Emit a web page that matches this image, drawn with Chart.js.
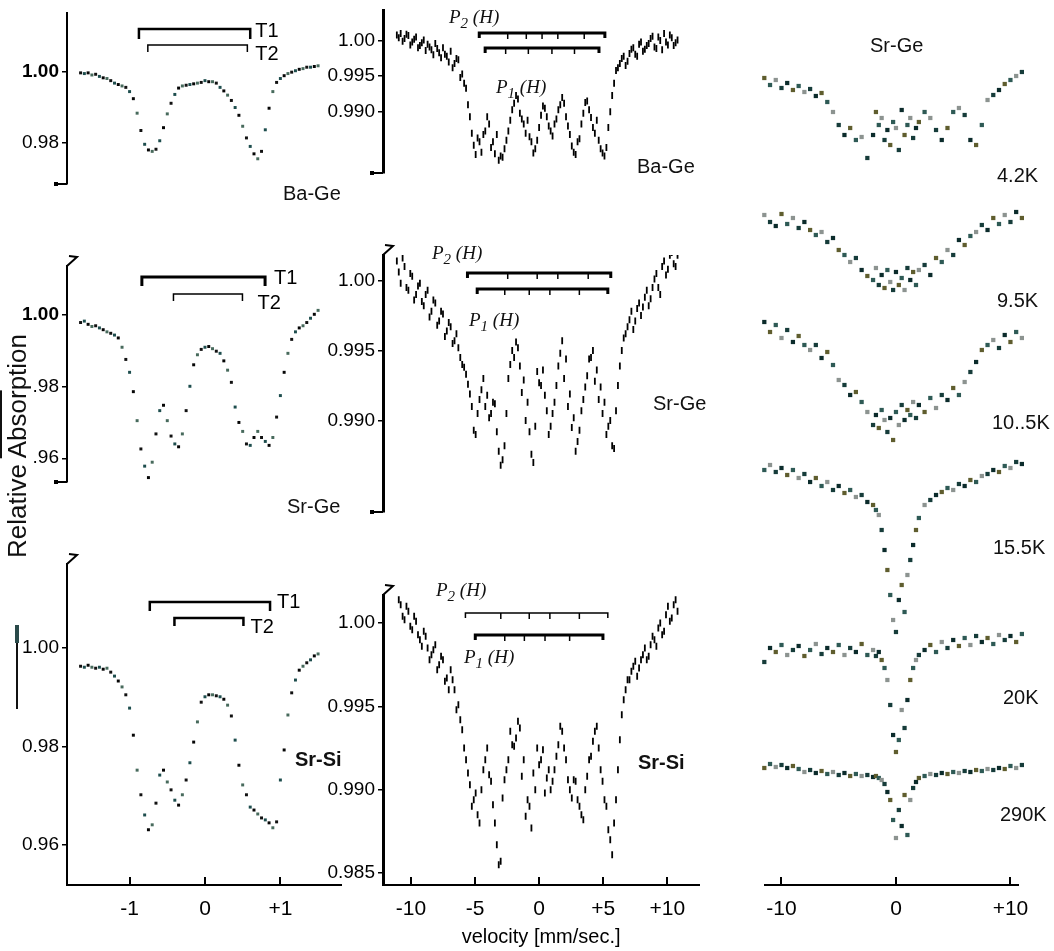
<!DOCTYPE html>
<html>
<head>
<meta charset="utf-8">
<script src="https://cdn.jsdelivr.net/npm/chart.js@4/dist/chart.umd.min.js"></script>
<style>
  body { margin:0; width:1054px; height:951px; overflow:hidden; position:relative; background:#fff;
         font-family:"Liberation Sans", Arial, sans-serif; color:#111; }
  canvas { position:absolute; }
  .lbl { position:absolute; font-size:19px; line-height:1; white-space:nowrap; }
  .big { font-size:20px; }
  .ph { position:absolute; line-height:1; white-space:nowrap; font-family:"Liberation Serif","DejaVu Serif",serif;
        font-style:italic; font-size:19px; }
  .ph sub { font-size:15px; vertical-align:-5px; }
</style>
</head>
<body>

<div class="lbl" style="left:17px;top:446px;font-size:26px;transform:translate(-50%,-50%) rotate(-90deg);">Relative <span style="text-decoration:overline">Absor</span>ption</div>
<div style="position:absolute;left:16px;top:625px;width:2px;height:84px;background:#111"></div>
<div style="position:absolute;left:15px;top:625px;width:4px;height:18px;background:#2a4a4a"></div>

<div class="lbl big" style="left:283px;top:183px">Ba-Ge</div>
<div class="lbl big" style="left:287px;top:496px">Sr-Ge</div>
<div class="lbl big" style="left:295px;top:749px;font-weight:bold">Sr-Si</div>

<div class="lbl big" style="left:637px;top:156px">Ba-Ge</div>
<div class="lbl big" style="left:653px;top:393px">Sr-Ge</div>
<div class="lbl big" style="left:638px;top:752px;font-weight:bold">Sr-Si</div>

<div class="ph" style="left:449px;top:7px">P<sub>2</sub> (H)</div>
<div class="ph" style="left:496px;top:77px">P<sub>1</sub> (H)</div>
<div class="ph" style="left:432px;top:243px">P<sub>2</sub> (H)</div>
<div class="ph" style="left:469px;top:310px">P<sub>1</sub> (H)</div>
<div class="ph" style="left:436px;top:580px">P<sub>2</sub> (H)</div>
<div class="ph" style="left:464px;top:647px">P<sub>1</sub> (H)</div>

<div class="lbl big" style="left:870px;top:35px">Sr-Ge</div>

<script>
// ---- left column: Mossbauer spectra, velocity in mm/s ----
const vLeft = [-1.65,-1.6,-1.55,-1.5,-1.45,-1.4,-1.35,-1.3,
  -1.25,-1.2,-1.15,-1.1,-1.05,-1.0,-0.95,-0.9,
  -0.85,-0.8,-0.75,-0.7,-0.65,-0.6,-0.55,-0.5,
  -0.45,-0.4,-0.35,-0.3,-0.25,-0.2,-0.15,-0.1,
  -0.05,0.0,0.05,0.1,0.15,0.2,0.25,0.3,
  0.35,0.4,0.45,0.5,0.55,0.6,0.65,0.7,
  0.75,0.8,0.85,0.9,0.95,1.0,1.05,1.1,
  1.15,1.2,1.25,1.3,1.35,1.4,1.45,1.5];

const baGeLeft = [0.9998,0.9996,0.9998,0.9992,0.9994,0.9988,0.9984,0.9982,
  0.9976,0.9969,0.9965,0.9961,0.9957,0.9945,0.9925,0.9884,
  0.9835,0.9796,0.9780,0.9776,0.9782,0.9806,0.9843,0.9882,
  0.9912,0.9937,0.9955,0.9961,0.9963,0.9965,0.9967,0.9969,
  0.9971,0.9976,0.9973,0.9973,0.9969,0.9957,0.9947,0.9935,
  0.9920,0.9900,0.9878,0.9847,0.9814,0.9790,0.9769,0.9755,
  0.9776,0.9837,0.9898,0.9945,0.9971,0.9982,0.9990,0.9996,
  1.0000,1.0004,1.0008,1.0010,1.0014,1.0014,1.0016,1.0018];

const srGeLeft = [0.9979,0.9983,0.9974,0.9968,0.9970,0.9964,0.9959,0.9953,
  0.9949,0.9944,0.9936,0.9910,0.9876,0.9840,0.9786,0.9705,
  0.9626,0.9578,0.9546,0.9589,0.9668,0.9733,0.9748,0.9705,
  0.9662,0.9640,0.9632,0.9668,0.9733,0.9801,0.9861,0.9889,
  0.9904,0.9910,0.9912,0.9906,0.9899,0.9893,0.9872,0.9846,
  0.9812,0.9743,0.9700,0.9675,0.9640,0.9636,0.9658,0.9675,
  0.9658,0.9647,0.9636,0.9658,0.9715,0.9775,0.9840,0.9893,
  0.9932,0.9953,0.9964,0.9970,0.9979,0.9991,1.0002,1.0013];

const srSiLeft = [0.9963,0.9961,0.9965,0.9961,0.9959,0.9961,0.9957,0.9959,
  0.9951,0.9943,0.9933,0.9921,0.9905,0.9878,0.9823,0.9752,
  0.9702,0.9661,0.9631,0.9641,0.9685,0.9742,0.9752,0.9728,
  0.9712,0.9691,0.9681,0.9702,0.9732,0.9767,0.9809,0.9850,
  0.9890,0.9901,0.9905,0.9905,0.9903,0.9901,0.9896,0.9884,
  0.9862,0.9813,0.9762,0.9722,0.9702,0.9677,0.9671,0.9663,
  0.9655,0.9651,0.9645,0.9635,0.9647,0.9732,0.9793,0.9864,
  0.9909,0.9935,0.9955,0.9963,0.9970,0.9976,0.9984,0.9988];

const leftXTicks = [-1, 0, 1];
const leftXLabels = ['-1', '0', '+1'];
const baGeLeftYTicks = [1.00, 0.98];
const baGeLeftYLabels = ['1.00', '0.98'];
const srGeLeftYTicks = [1.00, 0.98, 0.96];
const srGeLeftYLabels = ['1.00', '.98', '.96'];
const srSiLeftYTicks = [1.00, 0.98, 0.96];
const srSiLeftYLabels = ['1.00', '0.98', '0.96'];

// ---- middle column: wide velocity range, two interleaved channel sets ----
const vMid = [-11.1,-10.8,-10.5,-10.2,-9.9,-9.6,-9.3,-9.0,-8.7,-8.4,-8.1,-7.8,-7.5,-7.2,-6.9,-6.6,-6.3,-6.0,
  -5.7,-5.4,-5.1,-4.8,-4.5,-4.2,-3.9,-3.6,-3.3,-3.0,-2.7,-2.4,-2.1,-1.8,-1.5,-1.2,-0.9,-0.6,-0.3,0.0,
  0.3,0.6,0.9,1.2,1.5,1.8,2.1,2.4,2.7,3.0,3.3,3.6,3.9,4.2,4.5,4.8,5.1,5.4,5.7,6.0,
  6.3,6.6,6.9,7.2,7.5,7.8,8.1,8.4,8.7,9.0,9.3,9.6,9.9,10.2,10.5,10.8];
const vMid2 = [-10.95,-10.65,-10.35,-10.05,-9.75,-9.45,-9.15,-8.85,-8.55,-8.25,-7.95,-7.65,-7.35,-7.05,-6.75,-6.45,-6.15,
  -5.85,-5.55,-5.25,-4.95,-4.65,-4.35,-4.05,-3.75,-3.45,-3.15,-2.85,-2.55,-2.25,-1.95,-1.65,-1.35,-1.05,-0.75,-0.45,-0.15,
  0.15,0.45,0.75,1.05,1.35,1.65,1.95,2.25,2.55,2.85,3.15,3.45,3.75,4.05,4.35,4.65,4.95,5.25,5.55,5.85,
  6.15,6.45,6.75,7.05,7.35,7.65,7.95,8.25,8.55,8.85,9.15,9.45,9.75,10.05,10.35,10.65];

const baGeMid = [1.0008,1.0010,1.0003,1.0007,0.9998,1.0005,0.9993,1.0001,0.9995,0.9987,0.9996,0.9983,0.9990,0.9978,0.9985,0.9968,0.9973,0.9953,
  0.9933,0.9893,0.9853,0.9863,0.9843,0.9873,0.9883,0.9858,0.9868,0.9838,0.9848,0.9873,0.9903,0.9923,0.9898,0.9883,0.9888,0.9858,0.9848,0.9878,
  0.9908,0.9893,0.9873,0.9883,0.9903,0.9920,0.9893,0.9868,0.9843,0.9858,0.9883,0.9913,0.9903,0.9878,0.9888,0.9848,0.9838,0.9878,0.9923,0.9958,
  0.9968,0.9978,0.9971,0.9988,0.9981,0.9995,0.9985,0.9993,1.0003,0.9991,1.0005,0.9987,0.9998,1.0008,0.9993,1.0001];
const baGeMid2 = [1.0004,0.9999,1.0009,0.9994,1.0002,0.9990,0.9997,0.9986,0.9991,0.9980,0.9989,0.9976,0.9981,0.9970,0.9962,0.9975,0.9948,
  0.9940,0.9910,0.9870,0.9840,0.9858,0.9868,0.9893,0.9850,0.9841,0.9832,0.9836,0.9860,0.9888,0.9912,0.9918,0.9890,0.9870,0.9865,0.9842,0.9860,
  0.9895,0.9905,0.9880,0.9866,0.9890,0.9910,0.9912,0.9880,0.9852,0.9840,0.9862,0.9898,0.9915,0.9892,0.9870,0.9860,0.9842,0.9850,0.9900,0.9940,
  0.9962,0.9975,0.9965,0.9982,0.9990,0.9978,0.9998,0.9988,0.9996,1.0006,0.9989,1.0000,1.0010,0.9994,1.0004,0.9997];

const srGeMid = [1.0014,0.9998,1.0010,0.9993,1.0003,0.9990,0.9998,0.9982,0.9993,0.9978,0.9984,0.9971,0.9976,0.9964,0.9967,0.9957,0.9952,0.9940,
  0.9933,0.9919,0.9893,0.9905,0.9922,0.9910,0.9902,0.9913,0.9892,0.9868,0.9882,0.9930,0.9950,0.9956,0.9939,0.9929,0.9913,0.9876,0.9896,0.9927,
  0.9936,0.9907,0.9896,0.9913,0.9939,0.9957,0.9944,0.9919,0.9902,0.9885,0.9907,0.9924,0.9944,0.9950,0.9936,0.9924,0.9913,0.9896,0.9882,0.9907,
  0.9939,0.9959,0.9967,0.9978,0.9971,0.9984,0.9981,0.9993,0.9987,1.0001,0.9995,1.0010,1.0004,1.0018,1.0012,1.0018];
const srGeMid2 = [1.0006,1.0016,0.9995,1.0005,0.9986,0.9996,0.9985,0.9990,0.9974,0.9986,0.9968,0.9978,0.9960,0.9970,0.9955,0.9962,0.9945,
  0.9938,0.9926,0.9910,0.9890,0.9915,0.9930,0.9918,0.9905,0.9912,0.9878,0.9872,0.9905,0.9940,0.9945,0.9952,0.9920,0.9900,0.9892,0.9870,0.9935,
  0.9925,0.9918,0.9890,0.9905,0.9925,0.9948,0.9930,0.9910,0.9895,0.9878,0.9893,0.9915,0.9932,0.9945,0.9928,0.9915,0.9905,0.9890,0.9900,0.9880,
  0.9925,0.9950,0.9962,0.9972,0.9965,0.9980,0.9975,0.9988,0.9982,0.9995,1.0005,0.9990,1.0014,1.0008,1.0020,1.0010];

const srSiMid = [1.0019,1.0011,1.0002,1.0007,0.9996,1.0001,0.9990,0.9995,0.9985,0.9981,0.9987,0.9975,0.9978,0.9967,0.9972,0.9960,0.9951,0.9936,
  0.9918,0.9903,0.9894,0.9885,0.9900,0.9918,0.9909,0.9891,0.9867,0.9857,0.9906,0.9918,0.9927,0.9931,0.9937,0.9918,0.9894,0.9877,0.9900,0.9915,
  0.9924,0.9907,0.9900,0.9912,0.9927,0.9935,0.9918,0.9900,0.9906,0.9894,0.9885,0.9900,0.9918,0.9929,0.9938,0.9912,0.9894,0.9876,0.9861,0.9894,
  0.9930,0.9954,0.9966,0.9971,0.9977,0.9973,0.9981,0.9978,0.9987,0.9990,0.9997,0.9993,1.0005,1.0001,1.0011,1.0007];
const srSiMid2 = [1.0014,1.0004,1.0010,0.9998,1.0004,0.9993,0.9986,0.9992,0.9978,0.9984,0.9972,0.9980,0.9965,0.9960,0.9966,0.9948,0.9942,
  0.9925,0.9910,0.9890,0.9898,0.9880,0.9912,0.9925,0.9905,0.9880,0.9855,0.9895,0.9912,0.9935,0.9926,0.9941,0.9908,0.9884,0.9890,0.9910,0.9925,
  0.9918,0.9898,0.9912,0.9905,0.9920,0.9938,0.9925,0.9906,0.9895,0.9905,0.9890,0.9882,0.9908,0.9920,0.9935,0.9925,0.9905,0.9890,0.9870,0.9880,
  0.9912,0.9945,0.9960,0.9966,0.9974,0.9968,0.9978,0.9985,0.9980,0.9992,0.9986,1.0000,0.9995,1.0010,1.0003,1.0014];

const midXTicks = [-10, -5, 0, 5, 10];
const midXLabels = ['-10', '-5', '0', '+5', '+10'];
const baGeMidYTicks = [1.00, 0.995, 0.990];
const baGeMidYLabels = ['1.00', '0.995', '0.990'];
const srGeMidYTicks = [1.00, 0.995, 0.990];
const srGeMidYLabels = ['1.00', '0.995', '0.990'];
const srSiMidYTicks = [1.00, 0.995, 0.990, 0.985];
const srSiMidYLabels = ['1.00', '0.995', '0.990', '0.985'];

// ---- right column: Sr-Ge vs temperature (arb. units, stacked) ----
const vRight = [-12.5,-12,-11.5,-11,-10.5,-10,-9.5,-9,-8.5,-8,-7.5,-7,-6.5,-6,-5.5,-5,-4.5,-4,-3.5,-3,-2.5,
  -2,-1.75,-1.5,-1.25,-1,-0.75,-0.5,-0.25,0,0.25,0.5,0.75,1,1.25,1.5,1.75,2,
  2.5,3,3.5,4,4.5,5,5.5,6,6.5,7,7.5,8,8.5,9,9.5,10,10.5,11,11.5,12];

const temps = ['4.2K', '9.5K', '10..5K', '15.5K', '20K', '290K'];
const offsets = [160.6, 133, 112, 84, 47, 23];

const sr42 = [null,null,0.8,-0.6,0.4,-1.2,-0.2,-1.6,-0.8,-2.0,-1.4,-2.8,-2.2,-4.0,-6.0,-8.6,-10.6,-9.2,-11.6,-11.0,-15.2,
  -10.6,-6.0,-8.6,-7.2,-11.6,-9.6,-12.6,-8.0,-9.2,-13.6,-5.6,-10.6,-8.6,-7.2,-11.2,-9.2,-8.0,
  -6.0,-7.2,-9.6,-11.6,-9.2,-6.0,-5.2,-6.6,-11.6,-12.6,-8.6,-3.6,-2.6,-1.6,-0.4,0.4,1.2,2.0,2.4,2.8];
const sr95 = [0.4,-1.0,1.0,-0.4,-1.2,1.2,-0.8,0.4,-1.6,-0.4,-2.0,-3.0,-2.4,-4.4,-3.6,-6.0,-7.0,-8.4,-7.6,-10.0,-11.2,
  -12.0,-9.6,-13.0,-11.0,-13.6,-10.0,-12.4,-14.0,-10.4,-13.0,-11.6,-14.0,-9.6,-12.0,-10.4,-13.0,-10.0,
  -9.0,-11.0,-7.6,-8.4,-6.0,-7.0,-4.0,-5.0,-3.2,-2.4,-1.0,-2.0,0.4,-0.8,1.0,-0.4,1.6,0.4,1.4,2.0];
const sr105 = [1.4,-0.6,0.6,-1.4,0.0,-2.6,-1.0,-3.4,-2.2,-4.0,-5.0,-4.0,-6.6,-5.4,-8.0,-11.0,-12.0,-14.0,-13.4,-15.4,-17.4,
  -20.0,-18.0,-20.6,-17.0,-19.0,-21.4,-18.6,-23.0,-17.4,-20.0,-16.0,-19.0,-17.0,-18.0,-15.4,-18.6,-16.0,
  -17.4,-14.6,-16.6,-14.0,-15.0,-12.6,-14.0,-11.4,-9.4,-7.4,-5.0,-4.0,-3.0,-4.6,-2.0,-3.4,-1.4,-2.6,-1.0,-2.0];
const sr155 = [null,0.6,-1.0,0,-1.4,-0.6,-2.0,-1.0,-2.6,-1.8,-3.4,-2.6,-4.2,-3.4,-5.0,-4.2,-5.6,-5.0,-6.4,-6.0,-7.4,
  -8.0,-9.0,-10.0,-13.0,-17.0,-21.0,-26.0,-31.0,-33.4,-27.0,-24.0,-29.4,-22.0,-19.0,-16.0,-13.0,-10.6,
  -8.0,-7.0,-6.0,-5.4,-4.6,-5.0,-3.8,-4.2,-3.0,-3.4,-2.2,-1.8,-1.0,-1.4,-0.2,-0.6,0.6,0.2,1.4,null];
const sr20 = [null,-1.0,-2.4,0.4,-0.4,1.0,-1.0,0,0.8,-1.2,0,1.2,-0.8,0.4,-0.4,1.0,-1.0,0.4,-0.4,1.2,-1.0,
  0,-1.2,-0.4,-2.0,-3.6,-6.0,-11.0,-17.0,-20.4,-18.0,-12.0,-15.6,-10.0,-6.0,-3.6,-2.0,-1.0,
  0,1.0,-0.4,1.6,0.4,2.0,0.8,2.4,1.0,2.8,1.6,2.4,1.2,3.0,2.0,2.8,1.6,3.2,2.4,3.6];
const sr290 = [null,0.8,0.4,1.2,0.6,1.0,0.4,0.8,0.2,-0.4,0,-0.6,-0.2,-0.8,-0.4,-1.0,-0.6,-1.2,-0.8,-1.2,-1.0,
  -1.4,-1.2,-1.6,-2.0,-2.8,-4.4,-6.0,-10.0,-13.6,-8.0,-11.2,-5.0,-13.0,-6.0,-3.6,-2.4,-1.6,
  -1.2,-0.8,-1.0,-0.6,-0.8,-0.4,-0.6,-0.2,-0.4,0,-0.2,0.2,0,0.4,0.2,0.8,0.4,1.0,0.6,null];

const rightXTicks = [-10, 0, 10];
const rightXLabels = ['-10', '0', '+10'];

Chart.defaults.font.family = '"Liberation Sans", Arial, sans-serif';
Chart.defaults.color = '#000';

const leftDots = ['#111', '#1d4d4d', '#050505', '#476a5c'];
const rightDots = ['#163c3a', '#5f5d2e', '#8c9390', '#0b2b2b', '#2e5a55'];

// brackets, break marks
function marksPlugin(p) {
  return {
    id: 'marks',
    afterDatasetsDraw(chart) {
      const { ctx, chartArea: a, scales: { x, y } } = chart;
      ctx.save();
      ctx.strokeStyle = '#000';
      ctx.fillStyle = '#000';
      (p.brackets || []).forEach(b => {
        const x1 = x.getPixelForValue(b.from), x2 = x.getPixelForValue(b.to);
        const yy = Math.round(y.getPixelForValue(b.at));
        ctx.lineWidth = b.lw;
        ctx.beginPath();
        ctx.moveTo(x1, yy + b.tick); ctx.lineTo(x1, yy); ctx.lineTo(x2, yy); ctx.lineTo(x2, yy + b.tick);
        ctx.stroke();
        ctx.lineWidth = 1.5;
        (b.marks || []).forEach(m => {
          const xm = x.getPixelForValue(m);
          ctx.beginPath(); ctx.moveTo(xm, yy); ctx.lineTo(xm, yy + 6); ctx.stroke();
        });
        if (b.label) {
          ctx.font = '20px "Liberation Sans", Arial';
          ctx.textBaseline = 'middle';
          ctx.fillText(b.label, x2 + b.dx, yy + b.dy);
        }
      });
      ctx.lineWidth = 2;
      if (p.breakBottom) {
        ctx.beginPath(); ctx.moveTo(a.left, a.bottom); ctx.lineTo(a.left - 12, a.bottom); ctx.stroke();
        ctx.fillRect(a.left - 13, a.bottom - 2, 4, 4);
      }
      if (p.breakTop) {
        ctx.beginPath();
        ctx.moveTo(a.left + 2, a.top - 10); ctx.lineTo(a.left + 10, a.top - 9); ctx.lineTo(a.left, a.top);
        ctx.stroke();
      }
      ctx.restore();
    }
  };
}

function panel(p) {
  const padTop = 20, axisH = 66;
  const padBot = p.showX ? 0 : 20;
  const c = document.createElement('canvas');
  c.width = p.width;
  c.height = (p.bottom - p.top) + padTop + (p.showX ? axisH : padBot);
  c.style.left = p.canvasLeft + 'px';
  c.style.top = (p.top - padTop) + 'px';
  document.body.insertBefore(c, document.body.firstChild);

  const yAxisW = p.showY ? p.areaLeft - p.canvasLeft : 0;
  new Chart(c, {
    type: 'scatter',
    data: { datasets: p.datasets },
    options: {
      responsive: false,
      animation: false,
      events: [],
      layout: { padding: { top: padTop, bottom: padBot, left: p.showY ? 0 : p.areaLeft - p.canvasLeft,
                           right: p.canvasLeft + p.width - p.areaRight } },
      plugins: { legend: { display: false }, tooltip: { enabled: false } },
      scales: {
        x: {
          type: 'linear', display: !!p.showX, min: p.xMin, max: p.xMax,
          afterBuildTicks: s => { s.ticks = p.xTicks.map(v => ({ value: v })); },
          afterFit: s => { s.height = axisH; s.paddingLeft = 0; s.paddingRight = 0; },
          ticks: { callback: (v, i) => p.xLabels[i], font: { size: 21 }, padding: 20, maxRotation: 0 },
          grid: { display: true, drawOnChartArea: false, drawTicks: true, tickLength: -8, lineWidth: 2, color: '#000' },
          border: { display: true, width: 2, color: '#000' },
          title: { display: !!p.xTitle, text: p.xTitle, font: { size: 20 }, padding: { top: 0, bottom: 2 } }
        },
        y: {
          type: 'linear', display: !!p.showY, min: p.yMin, max: p.yMax,
          afterBuildTicks: s => { s.ticks = (p.yTicks || []).map(v => ({ value: v })); },
          afterFit: s => { s.width = yAxisW; s.paddingTop = 0; s.paddingBottom = 0; },
          ticks: {
            callback: (v, i) => p.yLabels[i], padding: 3,
            font: ctx => ({ size: 19, weight: (p.boldOne && ctx.tick && ctx.tick.value === 1) ? 'bold' : 'normal' })
          },
          grid: { display: true, drawOnChartArea: false, drawTicks: true, tickLength: 5, lineWidth: 1.5, color: '#000' },
          border: { display: true, width: p.axisW || 2, color: '#000' }
        }
      }
    },
    plugins: [marksPlugin(p)]
  });
}

function leftSet(ys) {
  return [{ data: vLeft.map((v, i) => ({ x: v, y: ys[i] })), pointStyle: 'rect', pointRadius: 2.1, borderWidth: 0,
            backgroundColor: c => leftDots[c.dataIndex % leftDots.length] }];
}
function midSet(ys, ys2) {
  const style = { pointStyle: 'line', pointRotation: 90, pointRadius: 3.5, borderWidth: 1.8,
                  borderColor: '#000', backgroundColor: '#000' };
  return [
    Object.assign({ data: vMid.map((v, i) => ({ x: v, y: ys[i] })) }, style),
    Object.assign({ data: vMid2.map((v, i) => ({ x: v, y: ys2[i] })) }, style)
  ];
}

const leftBase = { canvasLeft: 0, areaLeft: 67, areaRight: 345, width: 345, xMin: -1.83, xMax: 1.804,
                   xTicks: leftXTicks, xLabels: leftXLabels, showY: true, axisW: 2 };
const midBase = { canvasLeft: 320, areaLeft: 383, areaRight: 705, width: 385, xMin: -12.18, xMax: 12.49,
                  xTicks: midXTicks, xLabels: midXLabels, showY: true, axisW: 3 };

// left column
panel(Object.assign({}, leftBase, {
  top: 13, bottom: 250, yMin: 0.96837, yMax: 1.01673, yTicks: baGeLeftYTicks, yLabels: baGeLeftYLabels,
  boldOne: true, breakBottom: true, datasets: leftSet(baGeLeft),
  brackets: [
    { from: -0.876, to: 0.60, at: 1.0122, lw: 2.5, tick: 10, label: 'T1', dx: 5, dy: 2 },
    { from: -0.758, to: 0.562, at: 1.0078, lw: 1.5, tick: 7, label: 'T2', dx: 8, dy: 9 }
  ]
}));
panel(Object.assign({}, leftBase, {
  top: 266, bottom: 548, yMin: 0.95337, yMax: 1.01369, yTicks: srGeLeftYTicks, yLabels: srGeLeftYLabels,
  boldOne: true, breakTop: true, breakBottom: true, datasets: leftSet(srGeLeft),
  brackets: [
    { from: -0.837, to: 0.797, at: 1.0107, lw: 3, tick: 9, label: 'T1', dx: 9, dy: 1 },
    { from: -0.418, to: 0.497, at: 1.0058, lw: 1.5, tick: 7, label: 'T2', dx: 15, dy: 9 }
  ]
}));
panel(Object.assign({}, leftBase, {
  top: 564, bottom: 885, yMin: 0.95188, yMax: 1.01706, yTicks: srSiLeftYTicks, yLabels: srSiLeftYLabels,
  showX: true, breakTop: true, datasets: leftSet(srSiLeft),
  brackets: [
    { from: -0.732, to: 0.863, at: 1.0093, lw: 2.5, tick: 9, label: 'T1', dx: 7, dy: 0 },
    { from: -0.405, to: 0.510, at: 1.0061, lw: 2.5, tick: 8, label: 'T2', dx: 7, dy: 9 }
  ]
}));

// middle column
panel(Object.assign({}, midBase, {
  top: 10, bottom: 239, yMin: 0.9814, yMax: 1.0043, yTicks: baGeMidYTicks, yLabels: baGeMidYLabels,
  breakBottom: true, datasets: midSet(baGeMid, baGeMid2),
  brackets: [
    { from: -4.67, to: 5.13, at: 1.0010, lw: 3, tick: 5, marks: [-2.45, -1.0, 0.23, 1.46, 3.52] },
    { from: -4.21, to: 4.67, at: 0.9990, lw: 3, tick: 5, marks: [-2.61, -0.84, 1.0, 2.76] }
  ]
}));
panel(Object.assign({}, midBase, {
  top: 255, bottom: 578, yMin: 0.98347, yMax: 1.00182, yTicks: srGeMidYTicks, yLabels: srGeMidYLabels,
  breakTop: true, breakBottom: true, datasets: midSet(srGeMid, srGeMid2),
  brackets: [
    { from: -5.59, to: 5.59, at: 1.00057, lw: 3, tick: 5, marks: [-2.45, -0.15, 1.46, 3.83] },
    { from: -4.83, to: 5.36, at: 0.99938, lw: 3, tick: 5, marks: [-2.68, -0.77, 0.84, 3.14] }
  ]
}));
panel(Object.assign({}, midBase, {
  top: 595, bottom: 885, yMin: 0.98428, yMax: 1.00168, yTicks: srSiMidYTicks, yLabels: srSiMidYLabels,
  showX: true, xTitle: 'velocity [mm/sec.]', breakTop: true, datasets: midSet(srSiMid, srSiMid2),
  brackets: [
    { from: -5.75, to: 5.36, at: 1.0006, lw: 1.5, tick: 5, marks: [-2.99, -0.77, 0.84, 3.14] },
    { from: -4.98, to: 4.98, at: 0.99928, lw: 3, tick: 5, marks: [-2.68, -1.15, 0.46, 2.38] }
  ]
}));

// right column: temperature series, stacked by offset
const rightSeries = [sr42, sr95, sr105, sr155, sr20, sr290];
panel({
  canvasLeft: 720, areaLeft: 765, areaRight: 1018, width: 334, top: 20, bottom: 885,
  xMin: -11.44, xMax: 10.66, yMin: 0, yMax: 173, xTicks: rightXTicks, xLabels: rightXLabels,
  showX: true, showY: false,
  datasets: rightSeries.map((s, k) => ({
    label: temps[k], clip: false,
    data: vRight.map((v, i) => ({ x: v, y: s[i] === null ? null : offsets[k] + s[i] })),
    pointStyle: 'rect', pointRadius: 3, borderWidth: 0,
    backgroundColor: c => rightDots[(c.dataIndex * 3 + k) % rightDots.length]
  }))
});

// temperature labels
const tempPos = [[997, 165], [997, 290], [992, 412], [993, 537], [1003, 687], [1000, 804]];
temps.forEach((t, k) => {
  const d = document.createElement('div');
  d.className = 'lbl big';
  d.style.left = tempPos[k][0] + 'px';
  d.style.top = tempPos[k][1] + 'px';
  d.textContent = t;
  document.body.appendChild(d);
});
</script>
</body>
</html>
